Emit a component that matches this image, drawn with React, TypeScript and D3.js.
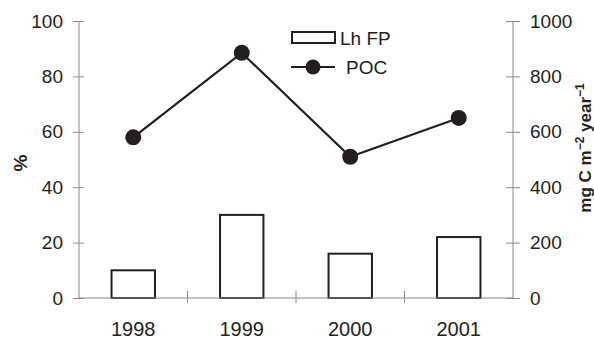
import React, { useEffect, useRef } from 'react';
import * as d3 from 'd3';

const years = ['1998', '1999', '2000', '2001'];
const lhFP = [10, 30, 16, 22];
const poc = [580, 885, 510, 650];
const leftTicks = [0, 20, 40, 60, 80, 100];
const rightTicks = [0, 200, 400, 600, 800, 1000];

export default function App() {
  const svgRef = useRef<SVGSVGElement>(null);

  useEffect(() => {
    if (!svgRef.current) return;
    const svg = d3.select(svgRef.current);
    svg.selectAll('*').remove();

    const width = 594;
    const height = 339;
    const margin = { top: 21, right: 81, bottom: 41, left: 79 };
    const innerWidth = width - margin.left - margin.right;
    const innerHeight = height - margin.top - margin.bottom;
    const ink = '#231f20';
    const axisColor = '#8a8a8a';
    const font = 'Liberation Sans, Arial, sans-serif';

    const g = svg.append('g').attr('transform', `translate(${margin.left},${margin.top})`);

    const x = d3.scaleBand().domain(years).range([0, innerWidth]).paddingInner(0.6).paddingOuter(0.3);
    const yL = d3.scaleLinear().domain([0, 100]).range([innerHeight, 0]);
    const yR = d3.scaleLinear().domain([0, 1000]).range([innerHeight, 0]);
    const step = innerWidth / years.length;

    // bars
    g.append('g')
      .selectAll('rect')
      .data(years)
      .join('rect')
      .attr('x', d => x(d)!)
      .attr('y', (_, i) => yL(lhFP[i]))
      .attr('width', x.bandwidth())
      .attr('height', (_, i) => innerHeight - yL(lhFP[i]))
      .attr('fill', 'white')
      .attr('stroke', ink)
      .attr('stroke-width', 2);

    // left axis
    g.append('g')
      .call(d3.axisLeft(yL).tickValues(leftTicks).tickFormat(d3.format('d')))
      .call(a => a.select('.domain').attr('stroke', axisColor).attr('d', `M0,0V${innerHeight}`))
      .call(a => a.selectAll('.tick line').attr('stroke', axisColor).attr('x1', 5).attr('x2', -6))
      .call(a => a.selectAll('.tick text').attr('fill', ink).attr('font-size', 19).attr('font-family', font).attr('x', -16));

    // right axis
    g.append('g')
      .attr('transform', `translate(${innerWidth},0)`)
      .call(d3.axisRight(yR).tickValues(rightTicks).tickFormat(d3.format('d')))
      .call(a => a.select('.domain').attr('stroke', axisColor).attr('d', `M0,0V${innerHeight}`))
      .call(a => a.selectAll('.tick line').attr('stroke', axisColor).attr('x1', -7).attr('x2', 7))
      .call(a => a.selectAll('.tick text').attr('fill', ink).attr('font-size', 19).attr('font-family', font).attr('x', 17));

    // x axis
    const xAxis = g.append('g').attr('transform', `translate(0,${innerHeight})`);
    xAxis.append('line').attr('x1', 0).attr('x2', innerWidth).attr('stroke', axisColor).attr('stroke-width', 1);
    xAxis.selectAll('line.tk')
      .data(d3.range(1, years.length))
      .join('line')
      .attr('class', 'tk')
      .attr('x1', i => i * step).attr('x2', i => i * step)
      .attr('y1', -7).attr('y2', 5)
      .attr('stroke', axisColor);
    xAxis.selectAll('text')
      .data(years)
      .join('text')
      .attr('x', d => x(d)! + x.bandwidth() / 2)
      .attr('y', 38)
      .attr('text-anchor', 'middle')
      .attr('fill', ink)
      .attr('font-size', 20)
      .attr('font-family', font)
      .text(d => d);

    // POC line
    const line = d3.line<number>()
      .x((_, i) => x(years[i])! + x.bandwidth() / 2)
      .y(d => yR(d));
    g.append('path').datum(poc).attr('d', line).attr('fill', 'none').attr('stroke', ink).attr('stroke-width', 2.2);
    g.append('g')
      .selectAll('circle')
      .data(poc)
      .join('circle')
      .attr('cx', (_, i) => x(years[i])! + x.bandwidth() / 2)
      .attr('cy', d => yR(d))
      .attr('r', 8)
      .attr('fill', ink);

    // axis titles
    svg.append('text')
      .attr('transform', 'translate(27,163) rotate(-90)')
      .attr('text-anchor', 'middle')
      .attr('font-size', 19)
      .attr('font-weight', 'bold')
      .attr('font-family', font)
      .attr('fill', ink)
      .text('%');

    const rt = svg.append('text')
      .attr('transform', 'translate(591,148) rotate(-90)')
      .attr('text-anchor', 'middle')
      .attr('font-size', 17)
      .attr('font-weight', 'bold')
      .attr('font-family', font)
      .attr('fill', ink);
    rt.append('tspan').text('mg C m');
    rt.append('tspan').attr('dy', -7).attr('font-size', 12).text('\u22122');
    rt.append('tspan').attr('dy', 7).text(' year');
    rt.append('tspan').attr('dy', -7).attr('font-size', 12).text('\u22121');

    // legend
    const lg = svg.append('g');
    lg.append('rect').attr('x', 292).attr('y', 32).attr('width', 43).attr('height', 11)
      .attr('fill', 'white').attr('stroke', ink).attr('stroke-width', 2);
    lg.append('text').attr('x', 340).attr('y', 45).attr('font-size', 19).attr('font-family', font).attr('fill', ink).text('Lh FP');
    lg.append('line').attr('x1', 291).attr('x2', 335).attr('y1', 67).attr('y2', 67).attr('stroke', ink).attr('stroke-width', 2.2);
    lg.append('circle').attr('cx', 313).attr('cy', 67).attr('r', 7.5).attr('fill', ink);
    lg.append('text').attr('x', 346).attr('y', 74).attr('font-size', 19).attr('font-family', font).attr('fill', ink).text('POC');
  }, []);

  return (
    <svg ref={svgRef} width={594} height={339} style={{ position: 'absolute', left: 0, top: 0, background: 'white' }} />
  );
}
